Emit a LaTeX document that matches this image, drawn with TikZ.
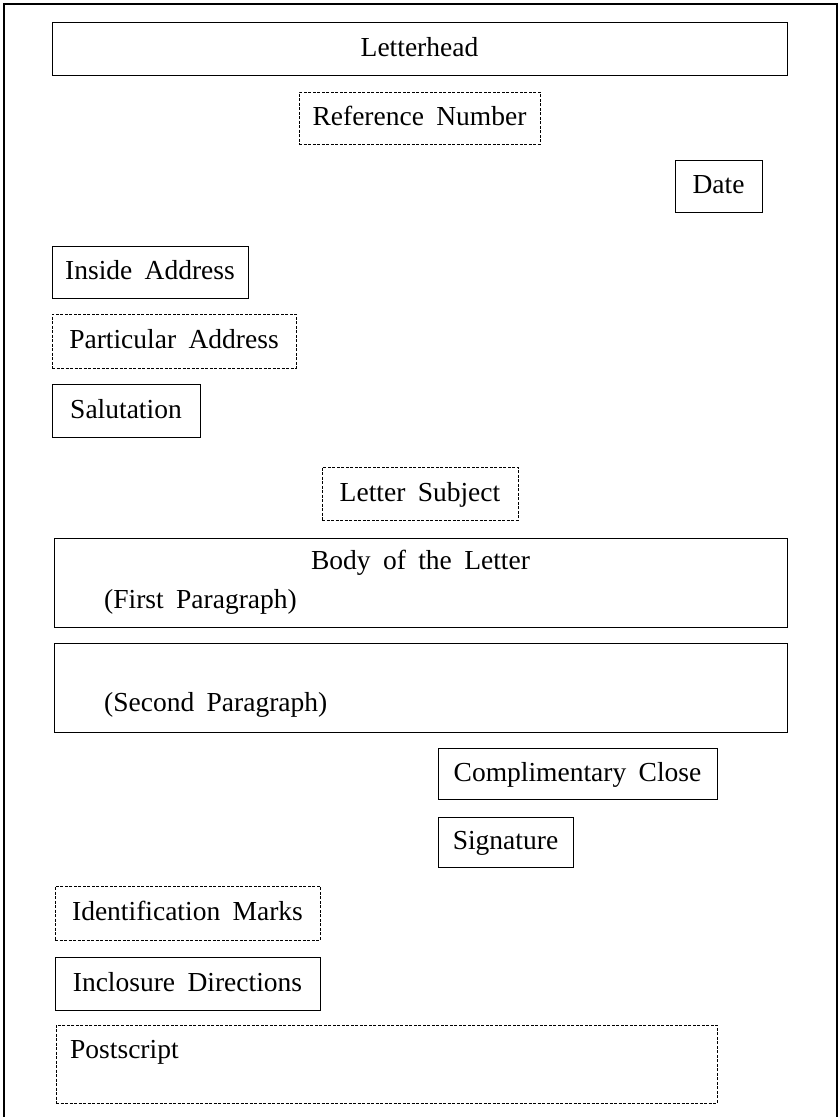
\documentclass[tikz,border=0pt]{standalone}
\usepackage{fontspec}
\setmainfont{Liberation Serif}[WordSpace=1.8]
\begin{document}
\begin{tikzpicture}[x=1pt,y=-1pt,
  every node/.style={font=\fontsize{27.5}{32}\selectfont},
  box/.style={draw, line width=1pt, inner sep=0pt, text height=21pt, text depth=6pt},
  dbox/.style={box, line width=0.8pt, dash pattern=on 3pt off 1.5pt},
  lbl/.style={inner sep=0pt, text height=21pt, text depth=6pt, anchor=west}]
\useasboundingbox (0,0) rectangle (840,1117);
% outer frame
\coordinate (fbl) at (4,1117);
\coordinate (ftl) at (4,4);
\coordinate (ftr) at (837,4);
\coordinate (fbr) at (837,1117);
\draw[line width=1.2pt] (fbl) -- (ftl) -- (ftr) -- (fbr);
% boxes
\node[box, minimum width=735pt, minimum height=53pt] (letterhead) at (419.5,48.5) {Letterhead};
\node[dbox, minimum width=241pt, minimum height=52pt] (ref) at (419.5,118) {Reference Number};
\node[box, minimum width=87pt, minimum height=52pt] (date) at (718.5,186) {Date};
\node[box, minimum width=196pt, minimum height=52pt] (inside) at (150,272) {Inside Address};
\node[dbox, minimum width=244pt, minimum height=54pt] (particular) at (174,341) {Particular Address};
\node[box, minimum width=148pt, minimum height=53pt] (salutation) at (126,410.5) {Salutation};
\node[dbox, minimum width=196pt, minimum height=53pt] (subject) at (420,493.5) {Letter Subject};
\node[box, minimum width=733pt, minimum height=89pt] (body) at (420.5,582.5) {};
\node[lbl, anchor=center] (bodytitle) at (420.5,562) {Body of the Letter};
\node[lbl] (first) at (104,601) {(First Paragraph)};
\node[box, minimum width=733pt, minimum height=89pt] (second) at (420.5,687.5) {};
\node[lbl] (secondtxt) at (104,704) {(Second Paragraph)};
\node[box, minimum width=279pt, minimum height=51pt] (close) at (577.5,773.5) {Complimentary Close};
\node[box, minimum width=135pt, minimum height=50pt] (signature) at (505.5,842) {Signature};
\node[dbox, minimum width=265pt, minimum height=54pt] (ident) at (187.5,913) {Identification Marks};
\node[box, minimum width=265pt, minimum height=53pt] (incl) at (187.5,983.5) {Inclosure Directions};
\node[dbox, minimum width=661pt, minimum height=78pt] (ps) at (386.5,1064) {};
\node[lbl] (pstxt) at (70,1050.5) {Postscript};
\end{tikzpicture}
\end{document}
